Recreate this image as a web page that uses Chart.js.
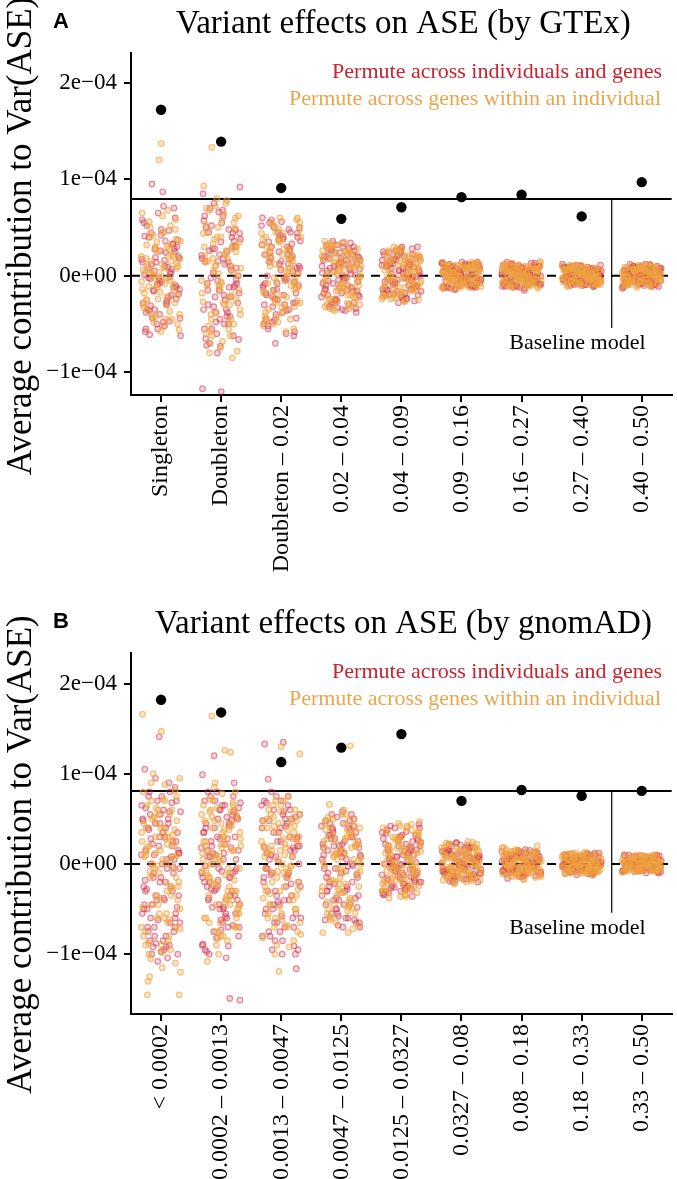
<!DOCTYPE html>
<html>
<head>
<meta charset="utf-8">
<script src="https://cdn.jsdelivr.net/npm/chart.js@4.4.1/dist/chart.umd.min.js"></script>
<style>
html,body{margin:0;padding:0;background:#fff;}
canvas{position:absolute;left:0;}
</style>
</head>
<body>
<canvas id="cA" width="677" height="600" style="top:0px"></canvas>
<canvas id="cB" width="677" height="579" style="top:600px"></canvas>
<script>
// ---------- data (values in units of 1e-6) ----------
const UNIT = 1e-6;
const gtexCategories = ['Singleton','Doubleton','Doubleton – 0.02','0.02 – 0.04','0.04 – 0.09','0.09 – 0.16','0.16 – 0.27','0.27 – 0.40','0.40 – 0.50'];
const gnomadCategories = ['< 0.0002','0.0002 – 0.0013','0.0013 – 0.0047','0.0047 – 0.0125','0.0125 – 0.0327','0.0327 – 0.08','0.08 – 0.18','0.18 – 0.33','0.33 – 0.50'];
const yTickValues = [-1e-4, 0, 1e-4, 2e-4];
const yTickLabels = ['−1e−04', '0e+00', '1e−04', '2e−04'];
const legendLabels = ['Permute across individuals and genes', 'Permute across genes within an individual'];
const yTitle = 'Average contribution to Var(ASE)';
const baselineLabel = 'Baseline model';

const gtexObserved = [172, 139, 91, 59, 71, 81.5, 84, 61.5, 97];
const gnomadObserved = [182, 168, 113, 129, 144, 70, 82, 75.5, 81];
const gtexBaseline = 79.5;
const gnomadBaseline = 81;

// red: permute across individuals and genes (GTEx)
const gtexAcross = [
 [24,-31,60,-8,41,-47,5,-19,72,-2,33,-55,14,-26,95,-12,48,-38,2,19,-44,10,-61,28,-5,55,-22,-15,37,87,-35,7,-50,17,-28,44,-10,26,-58,-1],
 [30,-45,62,-12,75,-66,18,-30,44,-5,-117,25,-55,8,-120,50,-22,-38,92,12,-70,36,-15,57,-50,3,-28,68,-8,40,-60,21,-35,-2,48,-73,15,-42,28,-18],
 [22,-35,50,-10,38,-55,5,-25,60,-3,30,-44,15,-18,45,-70,8,-30,55,-6,25,-50,12,-22,40,-38,0,33,-14,52,-60,18,-28,42,-8,28,-46,10,-20,35],
 [10,-20,30,-5,22,-33,3,-15,26,-38,14,-10,34,-25,7,-2,18,-28,12,-18,28,-8,20,-35,5,-12,32,-22,16,-30,1,24,-14,8,-26,19,-4,27,-16,11],
 [8,-15,22,-4,16,-24,2,-10,28,-20,12,-7,19,-2,24,-13,5,-18,14,-9,30,-22,10,-5,20,-16,3,17,-11,26,-6,11,-19,6,-25,15,-1,21,-14,9],
 [5,-9,13,-3,9,-12,1,-6,11,-14,7,-2,12,-8,3,-11,10,-5,14,-1,6,-10,8,-4,12,-13,2,-7,9,-9,4,11,-3,7,-12,0,13,-6,5,-2],
 [4,-8,12,-2,8,-11,1,-5,10,-15,6,-3,11,-7,2,-10,9,-4,14,-1,5,-9,7,-6,13,-12,3,-5,8,-8,0,10,-2,6,-11,4,12,-7,2,-3],
 [3,-6,10,-2,7,-9,1,-4,8,-11,5,-3,9,-7,2,-8,6,-5,11,-1,4,-10,6,-3,9,-6,0,7,-2,5,-9,3,12,-4,1,-7,8,-1,4,-5],
 [3,-7,11,-2,8,-10,1,-4,9,-12,5,-3,10,-6,2,-9,7,-5,12,-1,4,-8,6,-3,10,-11,0,6,-2,5,-13,3,9,-4,1,-6,8,-1,4,-5]
];
const gtexAcrossMore = [
 [-35,18,-52,40,-12,65,-28,9,-44,30,-6,52,-20,14,-62,36,-3,25,-40,1,47,-16,20,-48,8,33,-9,58,-30,12,-24,42,-55,4,28,-14,16,-36,70,-2],
 [-20,45,-62,15,85,-38,28,-8,55,-72,6,-48,38,-25,70,-10,22,-55,48,-32,0,62,-15,30,-80,18,-42,52,-4,35,-65,10,-22,44,-50,26,-12,66,-35,14],
 [-28,45,-12,30,-48,8,56,-20,18,-40,36,-5,24,-58,12,-30,48,-15,2,40,-52,20,-8,32,-36,58,-18,6,-45,26,-24,50,-2,14,-62,38,-10,22,-32,44],
 [-8,22,-28,12,-18,32,2,-24,16,-36,8,26,-12,20,-30,4,-6,34,-20,14,-26,10,-2,28,-34,18,-14,6,24,-22,12,-32,30,-4,16,-10,36,-16,0,20],
 [-6,18,-22,10,-14,26,0,-18,12,-26,6,22,-10,16,-20,3,-4,28,-16,11,-23,8,-1,24,-12,14,-8,4,20,-19,9,-28,25,-3,13,-11,30,-15,-2,17],
 [-4,8,-11,2,-7,12,0,-10,6,-13,3,10,-5,7,-12,1,-2,13,-8,5,-9,4,-1,11,-14,9,-6,2,12,-10,5,-3,9,-7,14,-11,1,6,-4,10],
 [-3,7,-9,1,-6,11,0,-9,5,-12,3,9,-4,6,-11,1,-2,12,-7,4,-8,3,-1,10,-13,8,-5,2,11,-9,4,-3,8,-6,13,-10,0,5,-3,9],
 [-3,6,-8,1,-5,9,0,-7,4,-10,2,8,-4,5,-9,1,-2,10,-6,3,-7,2,-1,9,-11,7,-4,2,10,-8,3,-2,7,-5,11,-9,0,4,-3,8],
 [-2,6,-9,1,-5,10,0,-8,4,-11,2,8,-4,6,-9,1,-3,11,-6,3,-7,2,-1,9,-10,7,-5,3,10,-8,4,-2,7,-6,12,-9,0,5,-3,8]
];
// orange: permute across genes within an individual (GTEx)
const gtexWithin = [
 [-14,30,-40,8,137,-25,52,-3,18,-52,40,-9,120,-33,22,0,-20,62,11,-45,35,-6,-30,15,58,-17,4,-37,27,-56,45,-11,20,-24,6,68,-43,13,-2,32],
 [133,-25,40,-60,10,72,-35,22,-80,55,-10,93,-48,33,0,-68,45,-20,80,-5,26,-40,60,-75,14,-30,38,-15,65,-52,4,50,-27,18,-62,30,-8,70,-45,11],
 [-20,40,-45,12,55,-30,25,-8,48,-52,18,-15,60,-38,30,2,-25,44,-58,20,-5,35,-42,8,52,-12,28,-35,15,-48,38,0,-22,58,-32,22,-10,45,-28,5],
 [-12,24,-30,6,18,-22,32,-6,14,-35,28,-16,2,20,-26,10,-3,30,-18,16,-32,8,22,-10,35,-24,12,-14,26,-28,4,18,-8,30,-20,13,-1,25,-34,9],
 [-8,18,-20,4,25,-12,14,-22,9,-3,20,-16,28,-6,12,-24,2,16,-10,22,-18,7,-1,26,-14,10,-21,19,-5,13,-17,24,0,-9,15,-26,5,18,-12,11],
 [-6,10,-12,3,8,-4,13,-9,5,-1,11,-11,7,-3,12,-7,2,9,-13,6,-5,10,-8,1,14,-2,4,-10,8,-6,12,0,-4,9,-11,5,-1,11,-8,3],
 [-5,9,-11,3,7,-3,12,-8,5,-1,10,-10,6,-4,11,-6,2,8,-12,5,-2,9,-7,1,13,-3,4,-9,7,-5,15,0,-4,8,-10,6,-1,10,-13,3],
 [-4,7,-9,2,6,-3,10,-6,4,-1,8,-8,5,-2,9,-5,1,7,-10,4,-2,8,-6,0,11,-3,3,-7,6,-4,9,0,-3,7,-9,5,-1,8,-11,2],
 [-4,8,-10,2,6,-3,11,-7,4,-1,9,-8,5,-2,10,-5,1,7,-11,4,-2,8,-6,0,12,-3,3,-7,6,-4,9,0,-3,7,-9,5,-1,8,-12,2]
];
const gtexWithinMore = [
 [15,-42,36,-8,50,-28,4,-18,28,-48,10,45,-35,22,-12,65,-22,2,38,-58,18,-5,30,-40,8,56,-15,25,-30,-2,42,-50,12,-25,32,-10,20,-45,6,48],
 [-40,22,-70,48,-12,30,-55,5,62,-28,15,-85,40,-18,78,-45,25,-6,52,-62,10,35,-30,68,-50,2,44,-22,18,-78,58,-10,28,-38,8,75,-58,32,-15,20],
 [10,-32,38,-18,26,-50,2,44,-8,20,-42,32,-22,55,-12,8,-38,28,-28,48,-4,16,-55,36,-16,4,52,-26,22,-45,12,-6,40,-35,30,-14,60,-48,18,-2],
 [6,-18,26,-26,14,-8,30,-32,2,20,-14,34,-22,10,-4,24,-36,16,-12,28,-28,4,18,-20,32,-6,12,-30,22,-16,0,26,-24,8,-10,36,-34,14,-2,20],
 [4,-14,22,-18,12,-6,26,-24,1,16,-10,28,-20,8,-2,20,-27,14,-8,23,-22,3,18,-15,27,-4,10,-23,17,-12,0,21,-19,6,-7,30,-25,11,-1,15],
 [2,-8,11,-6,4,-12,7,-2,13,-10,1,9,-4,12,-8,3,-1,10,-13,6,-5,8,-11,2,14,-7,5,-3,11,-9,0,7,-12,4,-6,12,-2,9,-10,3],
 [2,-7,10,-5,3,-11,6,-2,12,-9,1,8,-4,11,-7,2,-1,9,-12,5,-4,7,-10,1,13,-6,4,-3,10,-8,0,6,-11,3,-5,11,-2,8,-9,2],
 [1,-6,9,-5,3,-9,5,-2,10,-8,1,7,-3,9,-6,2,-1,8,-10,4,-4,6,-9,1,11,-5,3,-2,8,-7,0,5,-10,3,-4,10,-2,7,-8,2],
 [1,-6,9,-5,3,-10,5,-2,10,-8,1,7,-3,9,-6,2,-1,8,-11,4,-4,6,-9,1,11,-5,3,-2,8,-7,0,5,-10,3,-4,10,-2,7,-8,2]
];
// red: permute across individuals and genes (gnomAD)
const gnomadAcross = [
 [40,-60,85,-20,105,-90,10,-35,60,-75,25,-108,50,-5,-45,70,-97,15,-25,95,-65,30,-85,5,141,-50,45,-15,-100,35,-70,20,-40,65,-92,0,-55,55,-30,80,-80,12,-95,38,-10,-62,48,-104,22,-48,75,-28,8,-88,58],
 [30,-50,70,-15,120,-80,5,-40,55,-25,99,-60,20,-5,-73,45,-35,10,-151,65,-20,90,-45,35,-91,0,50,-65,15,-30,80,-10,-104,25,-55,60,-2,-149,40,-70,12,-38,75,-18,-89,28,-48,52,-8,-97,18,-28,68,-58,8],
 [133,-40,60,-20,135,94,-60,25,-80,45,-10,-116,70,-50,15,-30,55,-70,5,-91,35,-15,75,-45,20,-85,-5,50,-35,65,-25,10,-100,40,-55,30,-65,0,58,-75,18,-42,48,-12,-95,28,-58,68,-22,8],
 [20,-35,45,-10,30,-55,5,-25,55,-65,15,-45,38,-5,-70,25,-20,50,-40,10,-60,35,-15,58,-30,0,-50,42,-8,28,-38,12,-62,48,-22,18,-45,32,-2,-68,22,-28,40,-12,8],
 [10,-18,25,-5,35,-25,2,-12,30,-30,15,-8,40,-22,6,-15,20,-34,12,-2,28,-10,38,-28,8,-20,22,-4,32,-16,0,18,-26,44,-12,14,-6,26,-32,4,-24,16,-1,34,-14],
 [5,-10,14,-3,20,-15,1,-7,18,-18,9,-5,22,-12,3,-9,12,-20,7,-1,16,-14,24,-6,10,-16,2,13,-11,19,-4,8,-17,15,-2,11,-8,21,-13,4],
 [3,-7,10,-2,13,-10,1,-5,8,-12,6,-3,14,-8,2,-6,11,-14,5,-1,9,-9,12,-4,7,-11,0,10,-6,4,-13,8,-2,15,-7,3,-10,6,-3,11],
 [2,-5,8,-2,10,-8,1,-4,6,-10,4,-3,11,-6,2,-7,9,-11,4,0,7,-9,10,-3,5,-8,0,8,-5,3,-12,6,-1,12,-6,2,-7,5,-2,9],
 [2,-4,7,-2,9,-7,1,-3,6,-8,4,-2,9,-5,1,-6,8,-9,3,0,6,-7,9,-3,4,-10,0,7,-4,3,-8,5,-1,10,-5,2,-6,4,-2,8]
];
const gnomadAcrossMore = [
 [-20,55,-70,30,-45,90,-10,15,-85,40,-30,70,-55,5,-100,25,-15,62,-65,45,-5,-40,80,-75,20,-25,50,-92,35,0,-50,68,-35,10,-80,28,-60,45,-18,58,-70,12,-38,75,-3],
 [-35,60,-20,45,-75,15,-50,80,-10,30,-90,52,-28,5,-62,40,-15,70,-45,22,-100,58,-5,35,-70,12,-40,65,-25,48,-82,18,-55,75,-8,28,-95,42,-30,62,-48,8,-68,50,-15],
 [-25,50,-80,15,-45,70,-10,35,-95,55,-30,8,-65,40,-15,80,-55,25,-5,60,-85,20,-40,48,-70,2,-20,65,-50,30,-100,12,-35,75,-60,42,-12,52,-75,18],
 [-15,30,-50,10,-30,45,-62,20,-5,40,-40,25,-70,15,-20,52,-35,5,-55,35,-10,48,-45,28,-65,12,-25,42,-58,18,-2,38,-48,22,-30,55,-38,8,-60,32],
 [-8,20,-28,6,-18,30,-34,12,-2,26,-22,16,-36,8,-12,36,-26,2,-30,22,-6,40,-20,14,-32,10,-14,28,-24,4,-10,32,-16,18,-4,24,-28,42,-20,0],
 [-4,10,-16,3,-10,17,-19,6,-1,14,-12,8,-20,4,-7,19,-14,1,-17,11,-3,21,-9,7,-15,5,-6,15,-11,2,-5,18,-8,9,-2,13,-13,23,-10,0],
 [-3,8,-12,2,-8,13,-14,5,-1,11,-9,6,-16,3,-5,14,-10,1,-13,8,-2,15,-7,5,-11,4,-4,12,-8,2,-4,13,-6,7,-1,10,-10,16,-7,0],
 [-2,6,-9,1,-6,10,-11,4,0,8,-7,5,-12,2,-4,11,-8,1,-10,6,-2,12,-5,4,-9,3,-3,9,-6,1,-3,10,-5,5,-1,7,-8,12,-5,0],
 [-2,5,-8,1,-5,8,-9,3,0,7,-6,4,-10,2,-3,9,-7,1,-8,5,-2,10,-4,3,-7,2,-3,8,-5,1,-2,9,-4,4,-1,6,-7,10,-4,0]
];
// orange: permute across genes within an individual (gnomAD)
const gnomadWithin = [
 [166,-30,50,-70,147,10,-95,30,-50,70,-125,20,-10,45,-85,100,-40,5,-145,60,-60,35,-20,90,-110,15,-75,55,-5,-145,40,-100,25,-45,80,-65,0,48,-90,18,-35,62,-120,28,-15,38,-55,8,-80,52,-25,72,-130,32,-2],
 [164,-30,45,-60,124,10,-45,126,-15,60,-75,25,-5,70,-50,35,-108,15,-25,55,-40,0,80,-65,20,-10,48,-55,30,-35,65,-20,5,-85,40,-70,18,-2,58,-45,28,-12,72,-30,8,-60,38,-22,50,-80,14,-40,62,-8,22],
 [130,-30,50,-60,122,10,-45,35,-119,20,-15,65,-75,0,40,-35,-90,25,-5,55,-50,15,-25,45,-70,30,-10,60,-40,5,-82,38,-20,48,-55,12,-2,70,-65,22,-33,42,-48,18,-8,52,-28,28,-60,8],
 [131,-20,40,-45,66,5,-30,25,-76,50,-10,15,-55,35,-35,0,55,-62,20,-15,45,-40,10,-25,60,-50,30,-5,-76,38,-18,22,-32,48,-42,12,-8,28,-58,42,-22,18,-48,8,2],
 [47,-12,20,-25,45,0,-18,30,-8,14,-30,38,-4,24,-36,10,-14,42,-20,18,-2,32,-28,6,-10,26,-22,40,-6,12,-16,36,-26,2,22,-34,16,-8,28,-18,8,-12,34,-4,20],
 [-6,12,-14,4,25,-9,16,-2,8,-19,20,-11,6,-4,18,-16,10,0,-21,14,-7,22,-12,3,-5,17,-15,9,-1,23,-10,13,-18,5,-3,19,-8,11,-13,7],
 [-4,9,-11,2,20,-6,12,-1,6,-14,15,-8,4,-3,11,-10,7,0,-17,10,-5,13,-9,3,-2,14,-12,8,-1,16,-7,5,-13,9,-4,18,-6,1,-10,6],
 [-3,7,-9,2,11,-5,9,-1,5,-10,12,-6,3,-2,8,-8,6,0,-12,8,-4,10,-7,2,-1,11,-9,6,-1,13,-5,4,-10,7,-3,10,-5,1,-8,5],
 [-3,6,-8,2,9,-4,8,-1,4,-8,10,-5,3,-2,7,-7,5,0,-9,7,-3,9,-6,2,-1,9,-8,5,-1,10,-4,3,-7,6,-3,8,-5,1,-7,4]
];
const gnomadWithinMore = [
 [25,-55,70,-15,40,-90,5,-35,95,-60,20,-5,55,-80,30,-45,10,-115,65,-25,45,-70,0,-105,82,-38,15,-62,52,-20,35,-88,8,60,-48,22,-12,75,-98,40,-28,12,-72,88,-8],
 [-20,55,-80,25,-45,90,-5,38,-65,15,-100,65,-30,8,-55,78,-12,42,-90,20,-38,60,-70,2,48,-25,85,-48,30,-15,68,-82,12,-35,52,-60,22,-8,45,-75,35,-42,58,-18,5],
 [-15,40,-70,20,-50,65,-5,30,-100,55,-25,12,-85,45,-38,75,-10,25,-62,50,-2,35,-78,18,-45,60,-30,8,-92,42,-20,70,-55,28,-8,48,-68,15,-35,58],
 [-10,28,-48,12,-30,45,-60,20,-5,38,-38,25,-68,10,-18,50,-28,2,-52,32,-12,55,-42,18,-65,8,-22,40,-55,15,-2,35,-45,22,-32,52,-72,5,-25,30],
 [-5,18,-30,8,-20,32,-36,12,0,28,-24,15,-38,5,-10,40,-28,2,-32,22,-8,44,-18,14,-34,10,-14,30,-26,4,-6,36,-20,20,-2,26,-30,42,-16,-3],
 [-3,11,-16,4,-10,18,-20,6,0,15,-13,8,-22,3,-7,21,-15,2,-18,12,-4,22,-10,7,-17,5,-6,16,-12,2,-5,19,-9,10,-2,14,-14,24,-8,-1],
 [-2,8,-13,3,-8,14,-15,5,0,12,-10,6,-17,2,-5,15,-11,1,-14,9,-3,16,-7,5,-12,4,-4,13,-9,2,-4,14,-6,8,-1,11,-11,18,-7,-1],
 [-2,6,-10,2,-6,10,-11,4,0,9,-8,5,-12,2,-4,11,-8,1,-10,7,-2,12,-6,4,-9,3,-3,10,-7,1,-3,10,-5,6,-1,8,-8,12,-5,0],
 [-2,5,-8,1,-5,8,-9,3,0,7,-6,4,-9,2,-3,8,-7,1,-8,5,-2,9,-5,3,-7,2,-3,8,-5,1,-2,9,-4,4,-1,6,-7,10,-4,0]
];

// ---------- styling ----------
const SERIF = "'Liberation Serif', 'Times New Roman', serif";
const RED_TEXT = '#C8232F';
const ORANGE_TEXT = '#EBA54C';

function jitter(i, c, s) {
  const t = ((i + 1) * 0.6180339887 + c * 0.2317 + s * 0.4142) % 1;
  return (t - 0.5) * 0.66;
}
function points(a, b, s) {
  const out = [];
  a.forEach((g, c) => g.concat(b[c]).forEach((v, i) => out.push({ x: c + 1 + jitter(i, c, s), y: v * UNIT })));
  return out;
}

const annot = {
  id: 'annot',
  afterDraw(chart, args, o) {
    const { ctx, chartArea: ca, scales: { x, y } } = chart;
    ctx.save();
    ctx.textBaseline = 'middle';
    ctx.fillStyle = '#000';
    // panel title
    ctx.font = '33px ' + SERIF;
    ctx.textAlign = 'center';
    ctx.fillText(o.title, (ca.left + ca.right) / 2 + 2, ca.top - 29);
    // panel letter
    ctx.font = "bold 22px 'Liberation Sans', Arial, sans-serif";
    ctx.textAlign = 'left';
    ctx.fillText(o.letter, 53, ca.top - 31);
    // y-axis title
    ctx.save();
    ctx.font = '35px ' + SERIF;
    ctx.textAlign = 'center';
    ctx.translate(22, (ca.top + ca.bottom) / 2 + o.titleShift);
    ctx.rotate(-Math.PI / 2);
    ctx.fillText(yTitle, 0, 0);
    ctx.restore();
    // colour legend text
    ctx.font = '22px ' + SERIF;
    ctx.textAlign = 'right';
    ctx.fillStyle = RED_TEXT;
    ctx.fillText(legendLabels[0], 662, ca.top + 19);
    ctx.fillStyle = ORANGE_TEXT;
    ctx.fillText(legendLabels[1], 661, ca.top + 46);
    // baseline label
    ctx.fillStyle = '#000';
    ctx.textAlign = 'center';
    ctx.fillText(baselineLabel, x.getPixelForValue(7.93), y.getPixelForValue(o.labelY));
    ctx.restore();
  }
};

function build(id, p) {
  const axisGrid = { drawOnChartArea: false, drawTicks: true, tickLength: 7, color: '#000', lineWidth: 2 };
  const axisBorder = { display: true, color: '#000', width: 2 };
  return new Chart(document.getElementById(id), {
    type: 'scatter',
    data: {
      datasets: [
        { type: 'scatter', data: p.observed.map((v, i) => ({ x: i + 1, y: v * UNIT })), pointRadius: 5.2, backgroundColor: '#000', borderColor: '#000', borderWidth: 0, order: 0 },
        { type: 'scatter', data: points(p.within, p.withinMore, 1), pointRadius: 2.8, borderWidth: 1.2, backgroundColor: 'rgba(242,168,70,0.3)', borderColor: 'rgba(238,160,60,0.62)', order: 1 },
        { type: 'scatter', data: points(p.across, p.acrossMore, 0), pointRadius: 2.8, borderWidth: 1.2, backgroundColor: 'rgba(212,52,74,0.2)', borderColor: 'rgba(208,46,70,0.52)', order: 2 },
        { type: 'line', data: [{ x: 0.5, y: 0 }, { x: 9.5, y: 0 }], borderColor: '#000', borderWidth: 2, borderDash: [9, 7], pointRadius: 0, order: 3 },
        { type: 'line', data: [{ x: 0.5, y: p.baseline * UNIT }, { x: 9.5, y: p.baseline * UNIT }], borderColor: '#000', borderWidth: 2, pointRadius: 0, order: 3 },
        { type: 'line', data: [{ x: 8.5, y: p.baseline * UNIT }, { x: 8.5, y: p.vEnd }], borderColor: '#000', borderWidth: 1.2, pointRadius: 0, order: 3 }
      ]
    },
    options: {
      responsive: false,
      animation: false,
      events: [],
      layout: { padding: { top: 53, right: 3, left: 0, bottom: 0 } },
      plugins: { legend: { display: false }, title: { display: false }, tooltip: { enabled: false },
        annot: { title: p.title, letter: p.letter, labelY: p.labelY, titleShift: p.titleShift } },
      scales: {
        x: {
          type: 'linear', min: 0.5, max: 9.5,
          afterBuildTicks: s => { s.ticks = p.categories.map((_, i) => ({ value: i + 1 })); },
          afterFit: s => { s.height = p.xAxisHeight; s.paddingLeft = 0; s.paddingRight = 0; },
          ticks: { autoSkip: false, minRotation: 90, maxRotation: 90, padding: 3, color: '#000',
            font: { family: SERIF, size: 24 }, callback: (v, i) => p.categories[i] },
          grid: axisGrid, border: axisBorder
        },
        y: {
          type: 'linear', min: p.yMin, max: p.yMax,
          afterBuildTicks: s => { s.ticks = yTickValues.map(v => ({ value: v })); },
          afterFit: s => { s.width = 131; },
          ticks: { padding: 7, color: '#000', font: { family: SERIF, size: 23 }, callback: (v, i) => yTickLabels[i] },
          grid: axisGrid, border: axisBorder
        }
      }
    },
    plugins: [annot]
  });
}

build('cA', {
  categories: gtexCategories, observed: gtexObserved,
  across: gtexAcross, acrossMore: gtexAcrossMore, within: gtexWithin, withinMore: gtexWithinMore,
  baseline: gtexBaseline, vEnd: -0.54e-4, labelY: -0.70e-4, titleShift: 12,
  yMin: -1.235e-4, yMax: 2.308e-4, xAxisHeight: 205,
  title: 'Variant effects on ASE (by GTEx)', letter: 'A'
});
build('cB', {
  categories: gnomadCategories, observed: gnomadObserved,
  across: gnomadAcross, acrossMore: gnomadAcrossMore, within: gnomadWithin, withinMore: gnomadWithinMore,
  baseline: gnomadBaseline, vEnd: -0.54e-4, labelY: -0.71e-4, titleShift: 21,
  yMin: -1.663e-4, yMax: 2.339e-4, xAxisHeight: 165,
  title: 'Variant effects on ASE (by gnomAD)', letter: 'B'
});
</script>
</body>
</html>
